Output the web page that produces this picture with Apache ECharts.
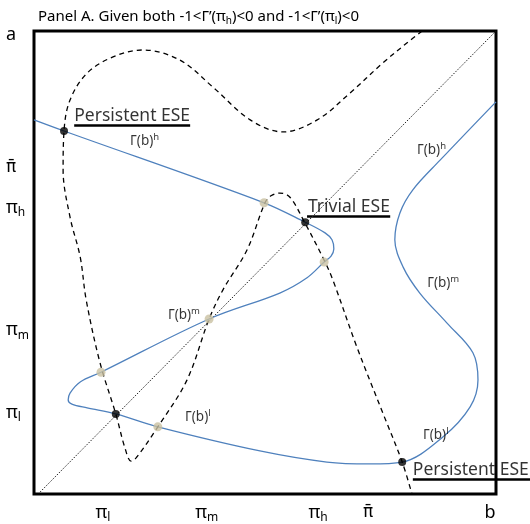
<!DOCTYPE html>
<html><head><meta charset="utf-8">
<script src="https://cdn.jsdelivr.net/npm/echarts@6/dist/echarts.min.js"></script>
<style>html,body{margin:0;padding:0;background:#fff}#c{width:530px;height:524px}</style>
</head><body><div id="c"></div>
<script>
const FONT = "'Noto Sans', sans-serif";

// Tick labels (positions on 0..100 scale)
const xTickValues = [14.9, 37.4, 61.5, 72.3, 98.7];
const xTickLabels = ['π_l', 'π_m', 'π_h', 'π̄', 'b'];
const yTickValues = [99.1, 70.4, 61.8, 35.4, 17.5];
const yTickLabels = ['a', 'π̄', 'π_h', 'π_m', 'π_l'];

// Dashed curve (one continuous curve)
const dashedCurve = [
  [84.0,100.0],[80.7,97.4],[75.5,93.1],[68.4,86.6],[61.3,80.8],[53.9,78.2],[46.8,80.8],
  [38.7,87.9],[31.6,93.7],[23.6,95.9],[17.1,94.4],[11.5,90.9],[7.8,85.1],[6.5,78.4],
  [6.3,70.0],[7.8,59.8],[10.0,51.2],[11.3,41.9],[14.3,28.3],[17.7,17.3],[19.7,9.9],
  [21.0,7.1],[22.1,7.8],[26.8,14.5],[33.1,24.6],[37.9,37.8],[40.9,44.1],[46.1,52.7],
  [50.0,62.9],[51.3,64.4],[53.2,65.0],[55.4,64.1],[58.4,59.0],[63.0,50.1],[64.7,46.2],
  [69.9,31.7],[75.5,17.5],[79.7,6.9],[81.8,0.0]
];

// Blue curve Γ(b)
const gammaCurve = [
  [0,80.8],[6.5,78.4],[49.8,62.9],[58.7,58.7],[63.0,56.4],[64.5,54.9],[64.9,52.9],
  [64.3,51.4],[62.8,50.1],[59.1,46.7],[53.2,43.4],[37.9,37.8],[14.5,26.3],[10.0,24.2],
  [7.8,21.8],[7.4,20.3],[8.2,19.4],[11.5,18.6],[17.7,17.3],[26.8,14.5],[48.9,9.3],
  [63.4,6.9],[72.7,6.5],[79.7,6.9],[88.5,12.3],[94.4,18.8],[96.1,24.6],[95.0,30.5],
  [89.4,36.9],[83.5,43.4],[79.9,49.0],[78.1,54.9],[79.2,60.7],[82.0,65.7],[87.9,72.1],
  [100,84.7]
];

// 45-degree line
const diagonal = [[1.3,0.4],[100,100]];

// Equilibrium points
const stablePoints = [[6.5,78.4],[58.7,58.7],[17.7,17.3],[79.7,6.9]];
const unstablePoints = [[49.8,62.9],[62.8,50.1],[37.9,37.8],[14.5,26.3],[26.8,14.5]];

// Annotations
const annoTexts = ['Persistent ESE','Γ(b)^h','Trivial ESE','Γ(b)^h','Γ(b)^m','Γ(b)^m','Γ(b)^l','Γ(b)^l','Persistent ESE'];
const annoAt = [[8.7,81.6],[20.8,76.2],[59.3,62.0],[82.9,74.3],[85.1,45.6],[29.0,38.7],[32.7,16.6],[84.2,12.7],[82.0,5.2]];
const underlines = [[[8.7,79.7],[33.8,79.7]],[[59.1,60.0],[77.1,60.0]],[[82.0,3.2],[107.5,3.2]]];

function richSub(s, base) {
  if (s === 'π̄') return '{bar|' + s + '}';
  if (s.indexOf('_') >= 0) { const p = s.split('_'); return '{' + base + '|' + p[0] + '}{s|' + p[1] + '}'; }
  if (s.indexOf('^') >= 0) { const p = s.split('^'); return '{' + base + '|' + p[0] + '}{u|' + p[1] + '}'; }
  return '{' + base + '|' + s + '}';
}
const tickRich = {
  p: {fontFamily: FONT, fontSize: 18, color: '#000', lineHeight: 22},
  bar: {fontFamily: "'DejaVu Sans', sans-serif", fontSize: 17, color: '#000', lineHeight: 22},
  s: {fontFamily: FONT, fontSize: 12, color: '#000', lineHeight: 8, verticalAlign: 'bottom'}
};
const annoRich = {
  big: {fontFamily: FONT, fontSize: 17.5, color: '#000', lineHeight: 22},
  g: {fontFamily: FONT, fontSize: 13.5, color: '#000', lineHeight: 18},
  u: {fontFamily: FONT, fontSize: 9.5, color: '#000', lineHeight: 6, verticalAlign: 'top'}
};

const chart = echarts.init(document.getElementById('c'), null, {renderer: 'canvas'});
chart.setOption({
  animation: false,
  backgroundColor: '#fff',
  title: {
    left: 33, top: 3,
    text: '{t|Panel A. Given both -1<Γ’(π}{s|h}{t|)<0 and -1<Γ’(π}{s|l}{t|)<0}',
    textStyle: {fontWeight: 'normal', rich: {
      t: {fontFamily: FONT, fontSize: 15, fontWeight: 'normal', color: '#000', lineHeight: 18},
      s: {fontFamily: FONT, fontSize: 10, fontWeight: 'normal', color: '#000', lineHeight: 6, verticalAlign: 'bottom'}
    }}
  },
  grid: {left: 34, right: 34, top: 31, bottom: 30, show: true, borderColor: '#000', borderWidth: 3},
  xAxis: {
    type: 'value', min: 0, max: 100,
    axisLine: {show: false}, axisTick: {show: false}, splitLine: {show: false},
    axisLabel: {
      customValues: xTickValues, margin: 8,
      formatter: v => richSub(xTickLabels[xTickValues.indexOf(v)], 'p'),
      rich: tickRich
    }
  },
  yAxis: {
    type: 'value', min: 0, max: 100,
    axisLine: {show: false}, axisTick: {show: false}, splitLine: {show: false},
    axisLabel: {
      customValues: yTickValues, margin: 28, align: 'left',
      formatter: v => richSub(yTickLabels[yTickValues.indexOf(v)], 'p'),
      rich: tickRich
    }
  },
  series: [
    {type: 'line', data: diagonal, symbol: 'none', lineStyle: {color: '#222', width: 1, type: [1.5, 1.5]}},
    {type: 'line', data: gammaCurve, symbol: 'none', smooth: 0.35, lineStyle: {color: '#4f81bd', width: 1.3}},
    {type: 'line', data: dashedCurve, symbol: 'none', smooth: 0.35, lineStyle: {color: '#000', width: 1.3, type: [5, 4]}},
    {type: 'lines', coordinateSystem: 'cartesian2d', clip: false,
      data: underlines.map(c => ({coords: c})), lineStyle: {color: '#000', width: 2.5, opacity: 1}},
    {type: 'scatter', data: unstablePoints, symbolSize: 9, itemStyle: {color: '#c9c1a1'}, z: 5},
    {type: 'scatter', data: stablePoints, symbolSize: 8, itemStyle: {color: '#000'}, z: 5},
    {type: 'scatter', clip: false, symbolSize: 0, z: 6,
      data: annoAt.map((p, i) => ({value: p, name: annoTexts[i]})),
      label: {show: true, position: 'right', distance: 0,
        formatter: p => p.name.indexOf('ESE') >= 0 ? '{big|' + p.name + '}' : richSub(p.name, 'g'),
        rich: annoRich}}
  ]
});
</script></body></html>
